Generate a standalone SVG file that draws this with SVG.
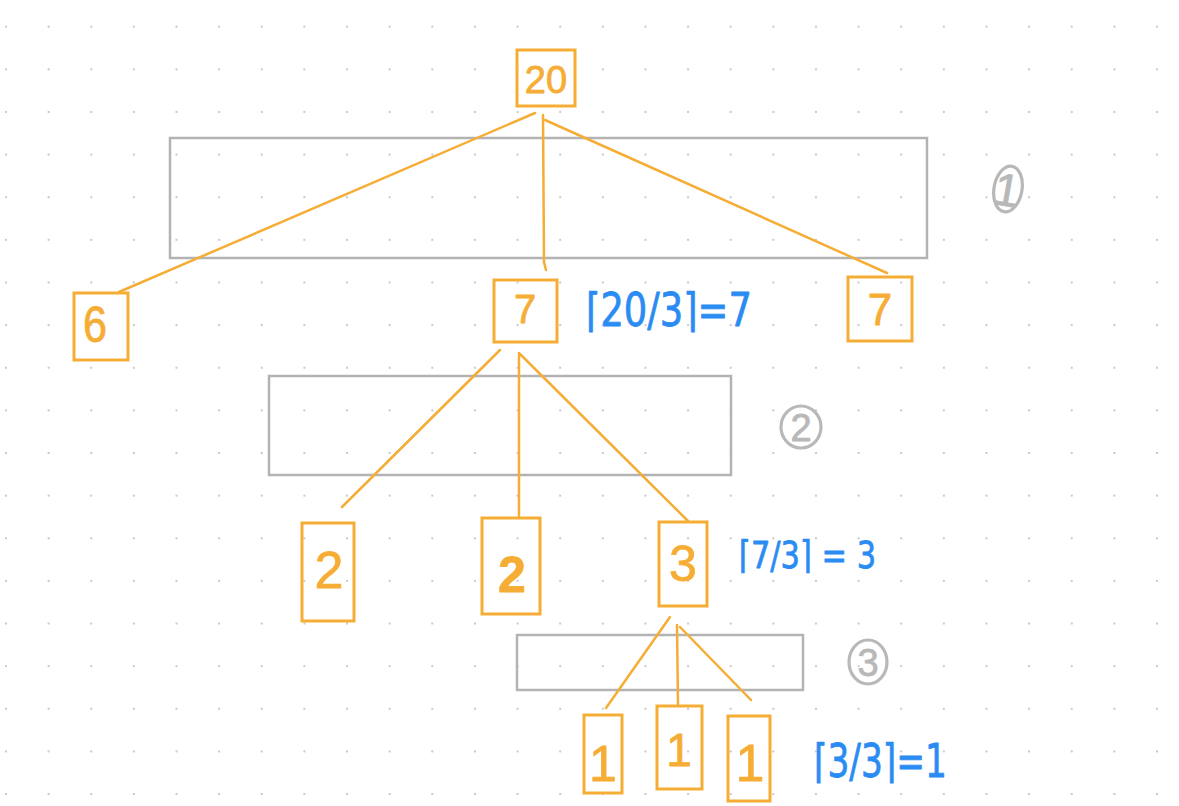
<svg xmlns="http://www.w3.org/2000/svg" width="1179" height="806" viewBox="0 0 1179 806">
  <defs>
    <pattern id="dots" x="5" y="25.7" width="42.63" height="42.63" patternUnits="userSpaceOnUse">
      <rect x="0" y="0" width="2" height="2" fill="#c9c9c9"/>
    </pattern>
    <style>
      .node { fill: none; stroke: #f6ad35; stroke-width: 3; }
      .num { fill: #f6ad35; stroke: #f6ad35; stroke-width: 0.8; stroke-linejoin: round; font-family: "Liberation Sans", "DejaVu Sans", sans-serif; text-anchor: middle; }
      .edge { stroke: #f6ad35; stroke-width: 2.5; fill: none; stroke-linecap: round; }
      .layer { fill: none; stroke: #b3b3b3; stroke-width: 2.5; }
      .step { fill: none; stroke: #b8b8b8; stroke-width: 3.2; }
      .stepnum { fill: #b8b8b8; stroke: #b8b8b8; stroke-width: 0.8; font-family: "Liberation Sans", "DejaVu Sans", sans-serif; text-anchor: middle; }
      .calc { fill: #2a8cf2; stroke: #2a8cf2; stroke-width: 0.8; stroke-linejoin: round; font-family: "DejaVu Sans", "Liberation Sans", sans-serif; }
    </style>
  </defs>

  <rect width="1179" height="806" fill="#ffffff"/>
  <rect width="1179" height="806" fill="url(#dots)"/>

  <!-- layer bands -->
  <g id="layers">
    <rect class="layer" x="170" y="138" width="757" height="120"/>
    <rect class="layer" x="269" y="376" width="462" height="99"/>
    <rect class="layer" x="517" y="635" width="286" height="55"/>
  </g>

  <!-- step markers -->
  <g id="step1">
    <ellipse class="step" cx="1008" cy="189" rx="14" ry="23" transform="rotate(10 1008 189)"/>
    <text class="stepnum" x="1007" y="206" font-size="46" transform="rotate(10 1007 189)">1</text>
  </g>
  <g id="step2">
    <ellipse class="step" cx="801" cy="427" rx="20" ry="21"/>
    <text class="stepnum" x="801" y="441" font-size="38">2</text>
  </g>
  <g id="step3">
    <ellipse class="step" cx="868" cy="662" rx="19" ry="22"/>
    <text class="stepnum" x="868" y="676" font-size="38">3</text>
  </g>

  <!-- connectors -->
  <g id="connectors">
    <line class="edge" x1="535" y1="113" x2="119" y2="292"/>
    <polyline class="edge" points="543,115 544,262 546,270"/>
    <line class="edge" x1="545" y1="120" x2="887" y2="273"/>
    <line class="edge" x1="500" y1="350" x2="342" y2="507"/>
    <line class="edge" x1="519" y1="353" x2="519" y2="518"/>
    <line class="edge" x1="520" y1="354" x2="688" y2="521"/>
    <line class="edge" x1="670" y1="617" x2="606" y2="708"/>
    <line class="edge" x1="677" y1="625" x2="678" y2="706"/>
    <line class="edge" x1="680" y1="627" x2="751" y2="700"/>
  </g>

  <!-- nodes -->
  <g id="n20">
    <rect class="node" x="517" y="50" width="58" height="56"/>
    <text class="num" x="546" y="93" font-size="38">20</text>
  </g>
  <g id="n6">
    <rect class="node" x="74" y="293" width="54" height="67"/>
    <text class="num" x="95" y="342" font-size="50" textLength="24" lengthAdjust="spacingAndGlyphs">6</text>
  </g>
  <g id="n7mid">
    <rect class="node" x="494" y="280" width="63" height="62"/>
    <text class="num" x="525" y="323" font-size="40">7</text>
  </g>
  <g id="n7right">
    <rect class="node" x="848" y="277" width="64" height="64"/>
    <text class="num" x="880" y="325" font-size="44">7</text>
  </g>
  <g id="n2left">
    <rect class="node" x="302" y="523" width="52" height="98"/>
    <text class="num" x="329" y="588" font-size="52">2</text>
  </g>
  <g id="n2mid">
    <rect class="node" x="482" y="518" width="58" height="96"/>
    <text class="num" x="512" y="592" font-size="50" font-weight="bold" stroke-width="1.6">2</text>
  </g>
  <g id="n3">
    <rect class="node" x="659" y="522" width="48" height="84"/>
    <text class="num" x="683" y="581" font-size="50">3</text>
  </g>
  <g id="n1a">
    <rect class="node" x="584" y="715" width="38" height="78"/>
    <text class="num" x="603" y="781" font-size="50">1</text>
  </g>
  <g id="n1b">
    <rect class="node" x="657" y="706" width="45" height="83"/>
    <text class="num" x="679" y="766" font-size="46">1</text>
  </g>
  <g id="n1c">
    <rect class="node" x="728" y="716" width="42" height="85"/>
    <text class="num" x="750" y="781" font-size="52">1</text>
  </g>

  <!-- ceiling calculations -->
  <g id="calc1">
    <text class="calc" x="586" y="326" font-size="46" textLength="166" lengthAdjust="spacingAndGlyphs">⌈20/3⌉=7</text>
  </g>
  <g id="calc2">
    <text class="calc" x="739" y="568" font-size="38" textLength="137" lengthAdjust="spacingAndGlyphs">⌈7/3⌉ = 3</text>
  </g>
  <g id="calc3">
    <text class="calc" x="814" y="777" font-size="46" textLength="133" lengthAdjust="spacingAndGlyphs">⌈3/3⌉=1</text>
  </g>
</svg>
